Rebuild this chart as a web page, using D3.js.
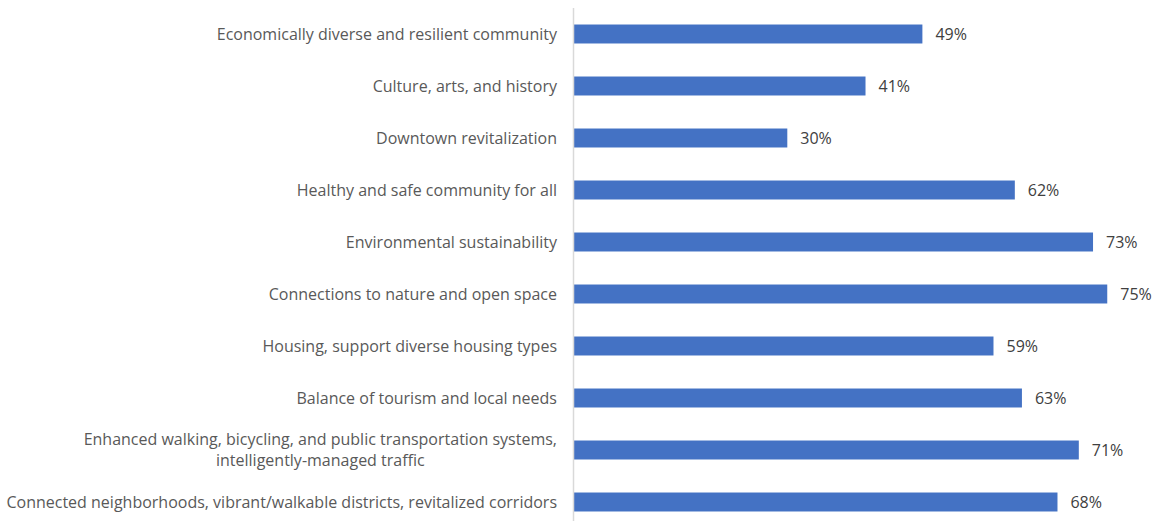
<!DOCTYPE html>
<html>
<head>
<meta charset="utf-8">
<script src="https://cdn.jsdelivr.net/npm/d3@7"></script>
<style>
  html, body { margin: 0; padding: 0; background: #ffffff; }
  svg { display: block; }
</style>
</head>
<body>
<svg id="chart" width="1158" height="521"></svg>
<script>
// Priorities and share of respondents (percent)
const categories = [
  "Economically diverse and resilient community",
  "Culture, arts, and history",
  "Downtown revitalization",
  "Healthy and safe community for all",
  "Environmental sustainability",
  "Connections to nature and open space",
  "Housing, support diverse housing types",
  "Balance of tourism and local needs",
  "Enhanced walking, bicycling, and public transportation systems,\nintelligently-managed traffic",
  "Connected neighborhoods, vibrant/walkable districts, revitalized corridors"
];
const values = [49, 41, 30, 62, 73, 75, 59, 63, 71, 68];

const width = 1158, height = 521;
const axisX = 574;
const svg = d3.select("#chart");

const x = d3.scaleLinear().domain([0, 80]).range([axisX, axisX + 80 * 7.11]);
const y = d3.scaleBand().domain(categories).range([8, 528]).paddingInner(0.635).paddingOuter(0.3175);

const fontFamily = "'Open Sans', 'Liberation Sans', sans-serif";

// Bars
svg.append("g").selectAll("rect")
  .data(categories)
  .join("rect")
  .attr("x", x(0))
  .attr("y", d => y(d))
  .attr("width", (d, i) => x(values[i]) - x(0))
  .attr("height", y.bandwidth())
  .attr("fill", "#4472c4");

// Vertical category axis line
svg.append("line")
  .attr("x1", axisX - 0.5).attr("x2", axisX - 0.5)
  .attr("y1", 8).attr("y2", height)
  .attr("stroke", "#d9d9d9").attr("stroke-width", 1.5);

// Category labels (multi-line labels are centred within a right-aligned block)
const labelG = svg.append("g")
  .attr("font-family", fontFamily)
  .attr("font-size", 16)
  .attr("fill", "#595959");

categories.forEach(cat => {
  const lines = cat.split("\n");
  const cy = y(cat) + y.bandwidth() / 2;
  const lineH = 21;
  const g = labelG.append("g");
  const texts = lines.map((ln, k) => g.append("text")
    .attr("y", cy + (k - (lines.length - 1) / 2) * lineH)
    .attr("dy", "0.35em")
    .attr("text-anchor", "middle")
    .text(ln));
  const widths = texts.map(t => t.node().getComputedTextLength());
  const maxW = d3.max(widths);
  const right = axisX - 17;
  texts.forEach(t => t.attr("x", right - maxW / 2));
});

// Value labels
svg.append("g")
  .attr("font-family", fontFamily)
  .attr("font-size", 16)
  .attr("fill", "#404040")
  .selectAll("text")
  .data(categories)
  .join("text")
  .attr("x", (d, i) => x(values[i]) + 13)
  .attr("y", d => y(d) + y.bandwidth() / 2)
  .attr("dy", "0.35em")
  .text((d, i) => values[i] + "%");
</script>
</body>
</html>
